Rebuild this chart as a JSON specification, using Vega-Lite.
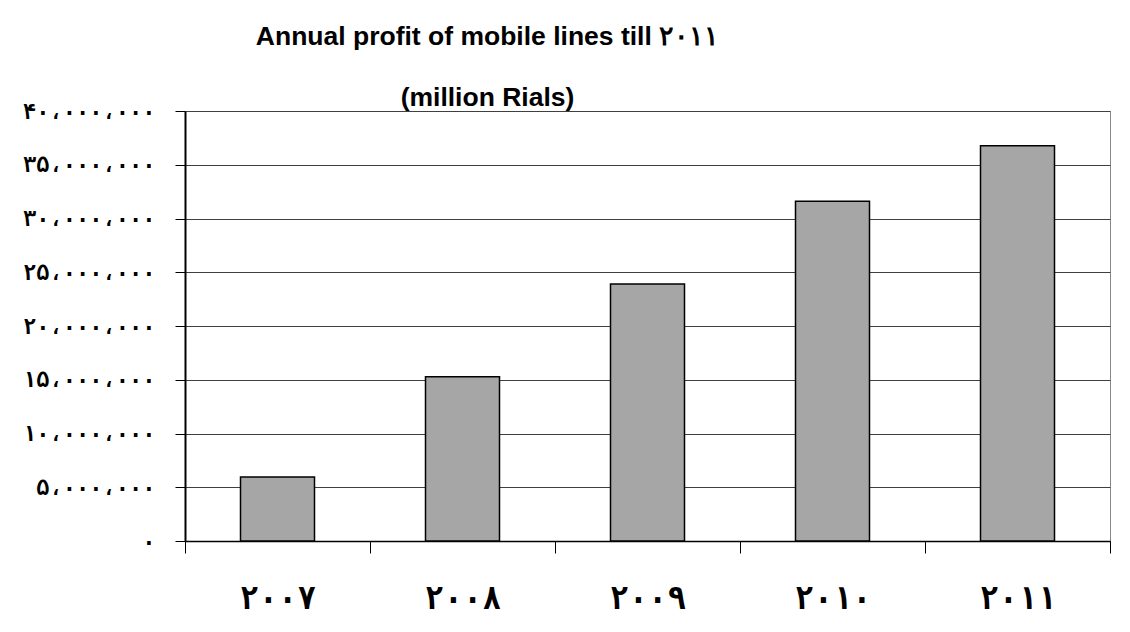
{
  "$schema": "https://vega.github.io/schema/vega-lite/v6.json",
  "width": 925,
  "height": 430,
  "autosize": {"type": "none"},
  "padding": {"left": 185, "top": 111, "right": 20, "bottom": 91},
  "background": "white",
  "config": {
    "locale": {
      "number": {
        "decimal": ".",
        "thousands": "،",
        "grouping": [3],
        "currency": ["", ""],
        "numerals": ["۰", "۱", "۲", "۳", "۴", "۵", "۶", "۷", "۸", "۹"]
      }
    },
    "view": {"stroke": "#888888", "strokeWidth": 1}
  },
  "title": {
    "text": ["Annual profit of mobile lines till ۲۰۱۱", "(million Rials)"],
    "font": "Liberation Sans",
    "fontSize": 26.5,
    "fontWeight": "bold",
    "color": "black",
    "anchor": "middle",
    "dx": -160,
    "dy": 14,
    "lineHeight": 61,
    "offset": 3
  },
  "data": {
    "values": [
      {"year": "۲۰۰۷", "profit": 5950000},
      {"year": "۲۰۰۸", "profit": 15280000},
      {"year": "۲۰۰۹", "profit": 23900000},
      {"year": "۲۰۱۰", "profit": 31600000},
      {"year": "۲۰۱۱", "profit": 36770000}
    ]
  },
  "mark": {"type": "bar", "fill": "#a6a6a6", "stroke": "black", "strokeWidth": 1.5, "width": {"band": 0.4}},
  "encoding": {
    "x": {
      "field": "year",
      "type": "nominal",
      "sort": null,
      "scale": {"paddingInner": 0, "paddingOuter": 0},
      "axis": {
        "title": null,
        "labelAngle": 0,
        "tickBand": "extent",
        "tickSize": 12,
        "tickColor": "black",
        "domainColor": "black",
        "domainWidth": 1.5,
        "labelFont": "DejaVu Sans Mono",
        "labelFontWeight": "bold",
        "labelFontSize": 32,
        "labelPadding": 30,
        "labelColor": "black"
      }
    },
    "y": {
      "field": "profit",
      "type": "quantitative",
      "scale": {"domain": [0, 40000000]},
      "axis": {
        "title": null,
        "values": [0, 5000000, 10000000, 15000000, 20000000, 25000000, 30000000, 35000000, 40000000],
        "format": ",d",
        "tickSize": 10,
        "tickColor": "black",
        "domainColor": "black",
        "domainWidth": 2,
        "labelPadding": 20,
        "labelFont": "DejaVu Sans Mono",
        "labelFontWeight": "bold",
        "labelFontSize": 22,
        "labelColor": "black",
        "gridColor": "#404040",
        "gridWidth": 1
      }
    }
  }
}
